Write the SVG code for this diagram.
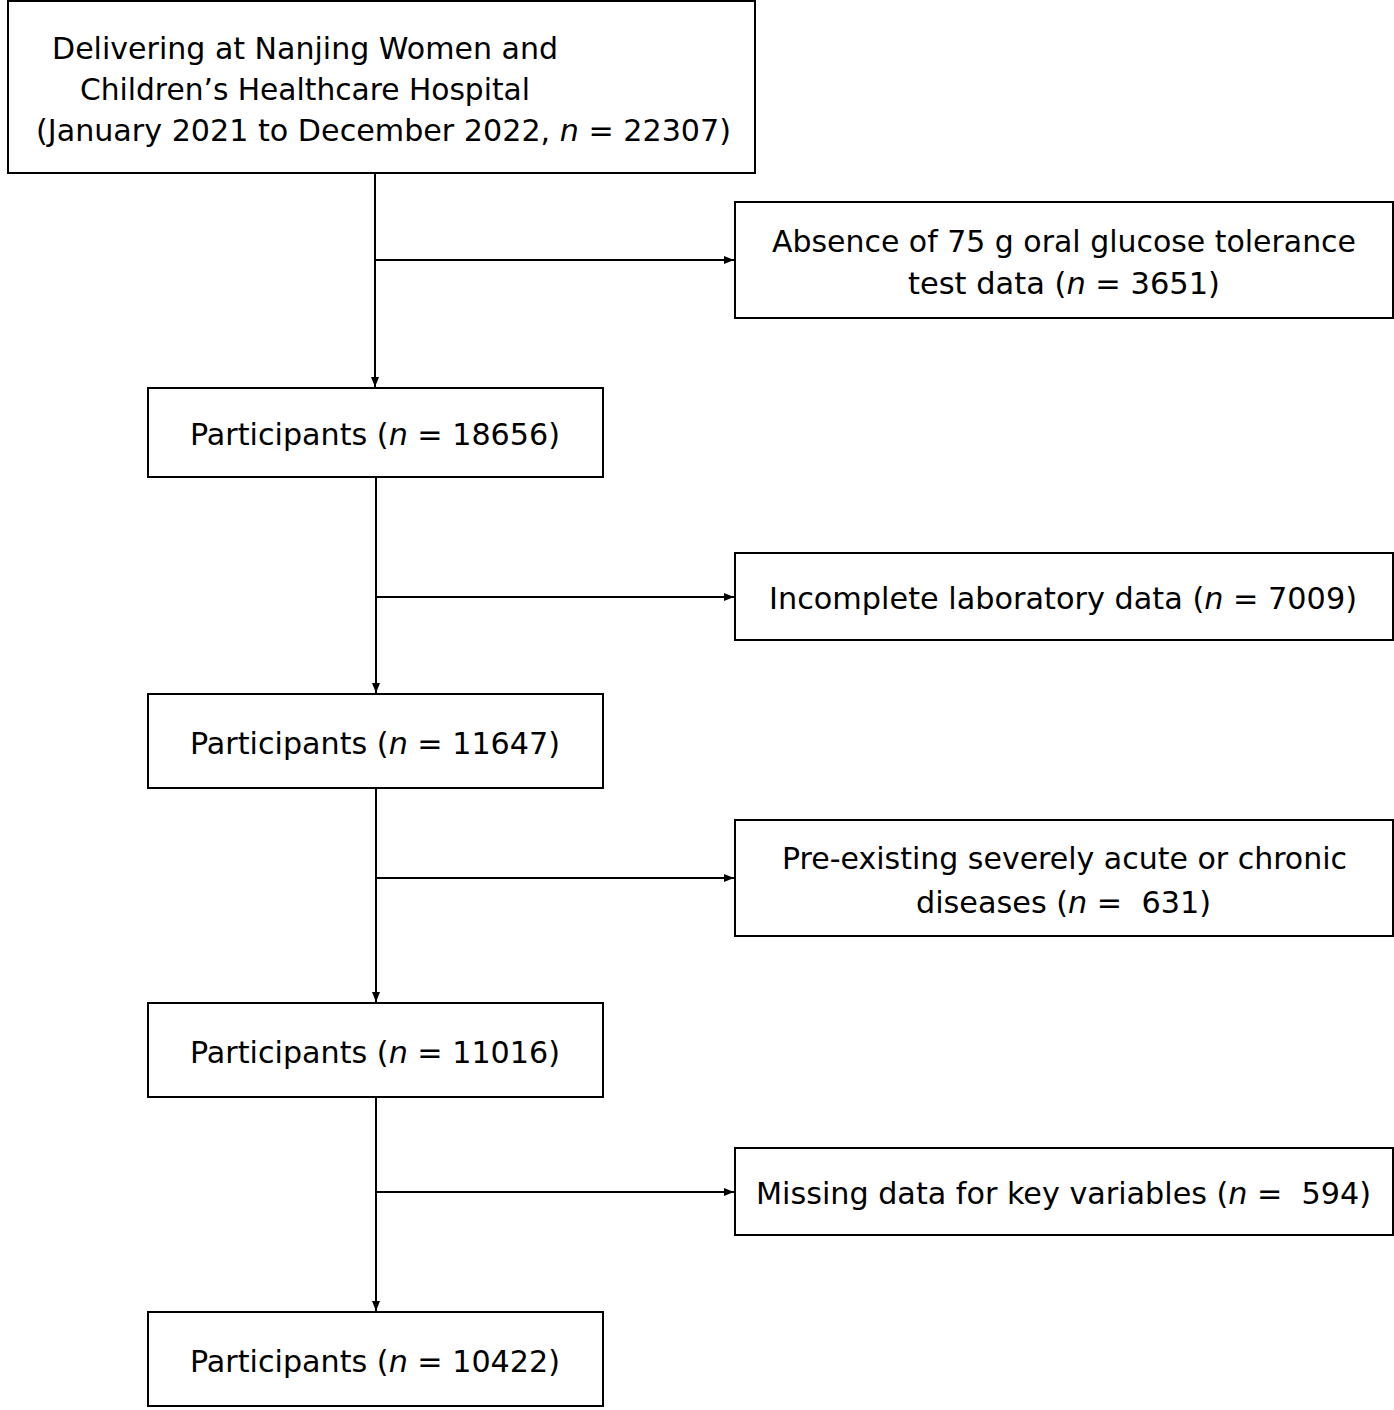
<svg xmlns="http://www.w3.org/2000/svg" width="1394" height="1410" viewBox="0 0 1394 1410">
<style>
rect{fill:#fff;stroke:#000;stroke-width:2}
text{font-family:"DejaVu Sans",Verdana,sans-serif;font-size:30px;fill:#000}
.c line{stroke:#000;stroke-width:2}
</style>
<defs><marker id="a" markerWidth="10" markerHeight="8" refX="10" refY="4" orient="auto" markerUnits="userSpaceOnUse"><path d="M0,0L10,4L0,8z" fill="#000"/></marker></defs>
<rect width="1394" height="1410" style="stroke:none"/>
<g class="c">
<line x1="375" y1="173" x2="375" y2="387" marker-end="url(#a)"/>
<line x1="375" y1="260" x2="734" y2="260" marker-end="url(#a)"/>
<line x1="376" y1="477" x2="376" y2="693" marker-end="url(#a)"/>
<line x1="376" y1="597" x2="734" y2="597" marker-end="url(#a)"/>
<line x1="376" y1="788" x2="376" y2="1002" marker-end="url(#a)"/>
<line x1="376" y1="878" x2="734" y2="878" marker-end="url(#a)"/>
<line x1="376" y1="1097" x2="376" y2="1311" marker-end="url(#a)"/>
<line x1="376" y1="1192" x2="734" y2="1192" marker-end="url(#a)"/>
</g>
<g id="n0"><rect x="8" y="1" width="747" height="172"/>
<text x="52" y="59" textLength="506" lengthAdjust="spacingAndGlyphs">Delivering at Nanjing Women and</text>
<text x="80" y="100" textLength="450" lengthAdjust="spacingAndGlyphs">Children’s Healthcare Hospital</text>
<text x="36" y="141" textLength="695" lengthAdjust="spacingAndGlyphs">(January 2021 to December 2022, <tspan font-style="italic">n</tspan> = 22307)</text></g>
<g id="r1"><rect x="735" y="202" width="658" height="116"/>
<text x="772" y="252" textLength="584" lengthAdjust="spacingAndGlyphs">Absence of 75 g oral glucose tolerance</text>
<text x="908" y="294" textLength="312" lengthAdjust="spacingAndGlyphs">test data (<tspan font-style="italic">n</tspan> = 3651)</text></g>
<g id="p1"><rect x="148" y="388" width="455" height="89"/>
<text x="190" y="445" textLength="370" lengthAdjust="spacingAndGlyphs">Participants (<tspan font-style="italic">n</tspan> = 18656)</text></g>
<g id="r2"><rect x="735" y="553" width="658" height="87"/>
<text x="769" y="609" textLength="588" lengthAdjust="spacingAndGlyphs">Incomplete laboratory data (<tspan font-style="italic">n</tspan> = 7009)</text></g>
<g id="p2"><rect x="148" y="694" width="455" height="94"/>
<text x="190" y="754" textLength="370" lengthAdjust="spacingAndGlyphs">Participants (<tspan font-style="italic">n</tspan> = 11647)</text></g>
<g id="r3"><rect x="735" y="820" width="658" height="116"/>
<text x="782" y="869" textLength="565" lengthAdjust="spacingAndGlyphs">Pre-existing severely acute or chronic</text>
<text x="916" y="913" textLength="295" lengthAdjust="spacingAndGlyphs" xml:space="preserve">diseases (<tspan font-style="italic">n</tspan> =  631)</text></g>
<g id="p3"><rect x="148" y="1003" width="455" height="94"/>
<text x="190" y="1063" textLength="370" lengthAdjust="spacingAndGlyphs">Participants (<tspan font-style="italic">n</tspan> = 11016)</text></g>
<g id="r4"><rect x="735" y="1148" width="658" height="87"/>
<text x="756" y="1204" textLength="615" lengthAdjust="spacingAndGlyphs" xml:space="preserve">Missing data for key variables (<tspan font-style="italic">n</tspan> =  594)</text></g>
<g id="p4"><rect x="148" y="1312" width="455" height="94"/>
<text x="190" y="1372" textLength="370" lengthAdjust="spacingAndGlyphs">Participants (<tspan font-style="italic">n</tspan> = 10422)</text></g>
</svg>
